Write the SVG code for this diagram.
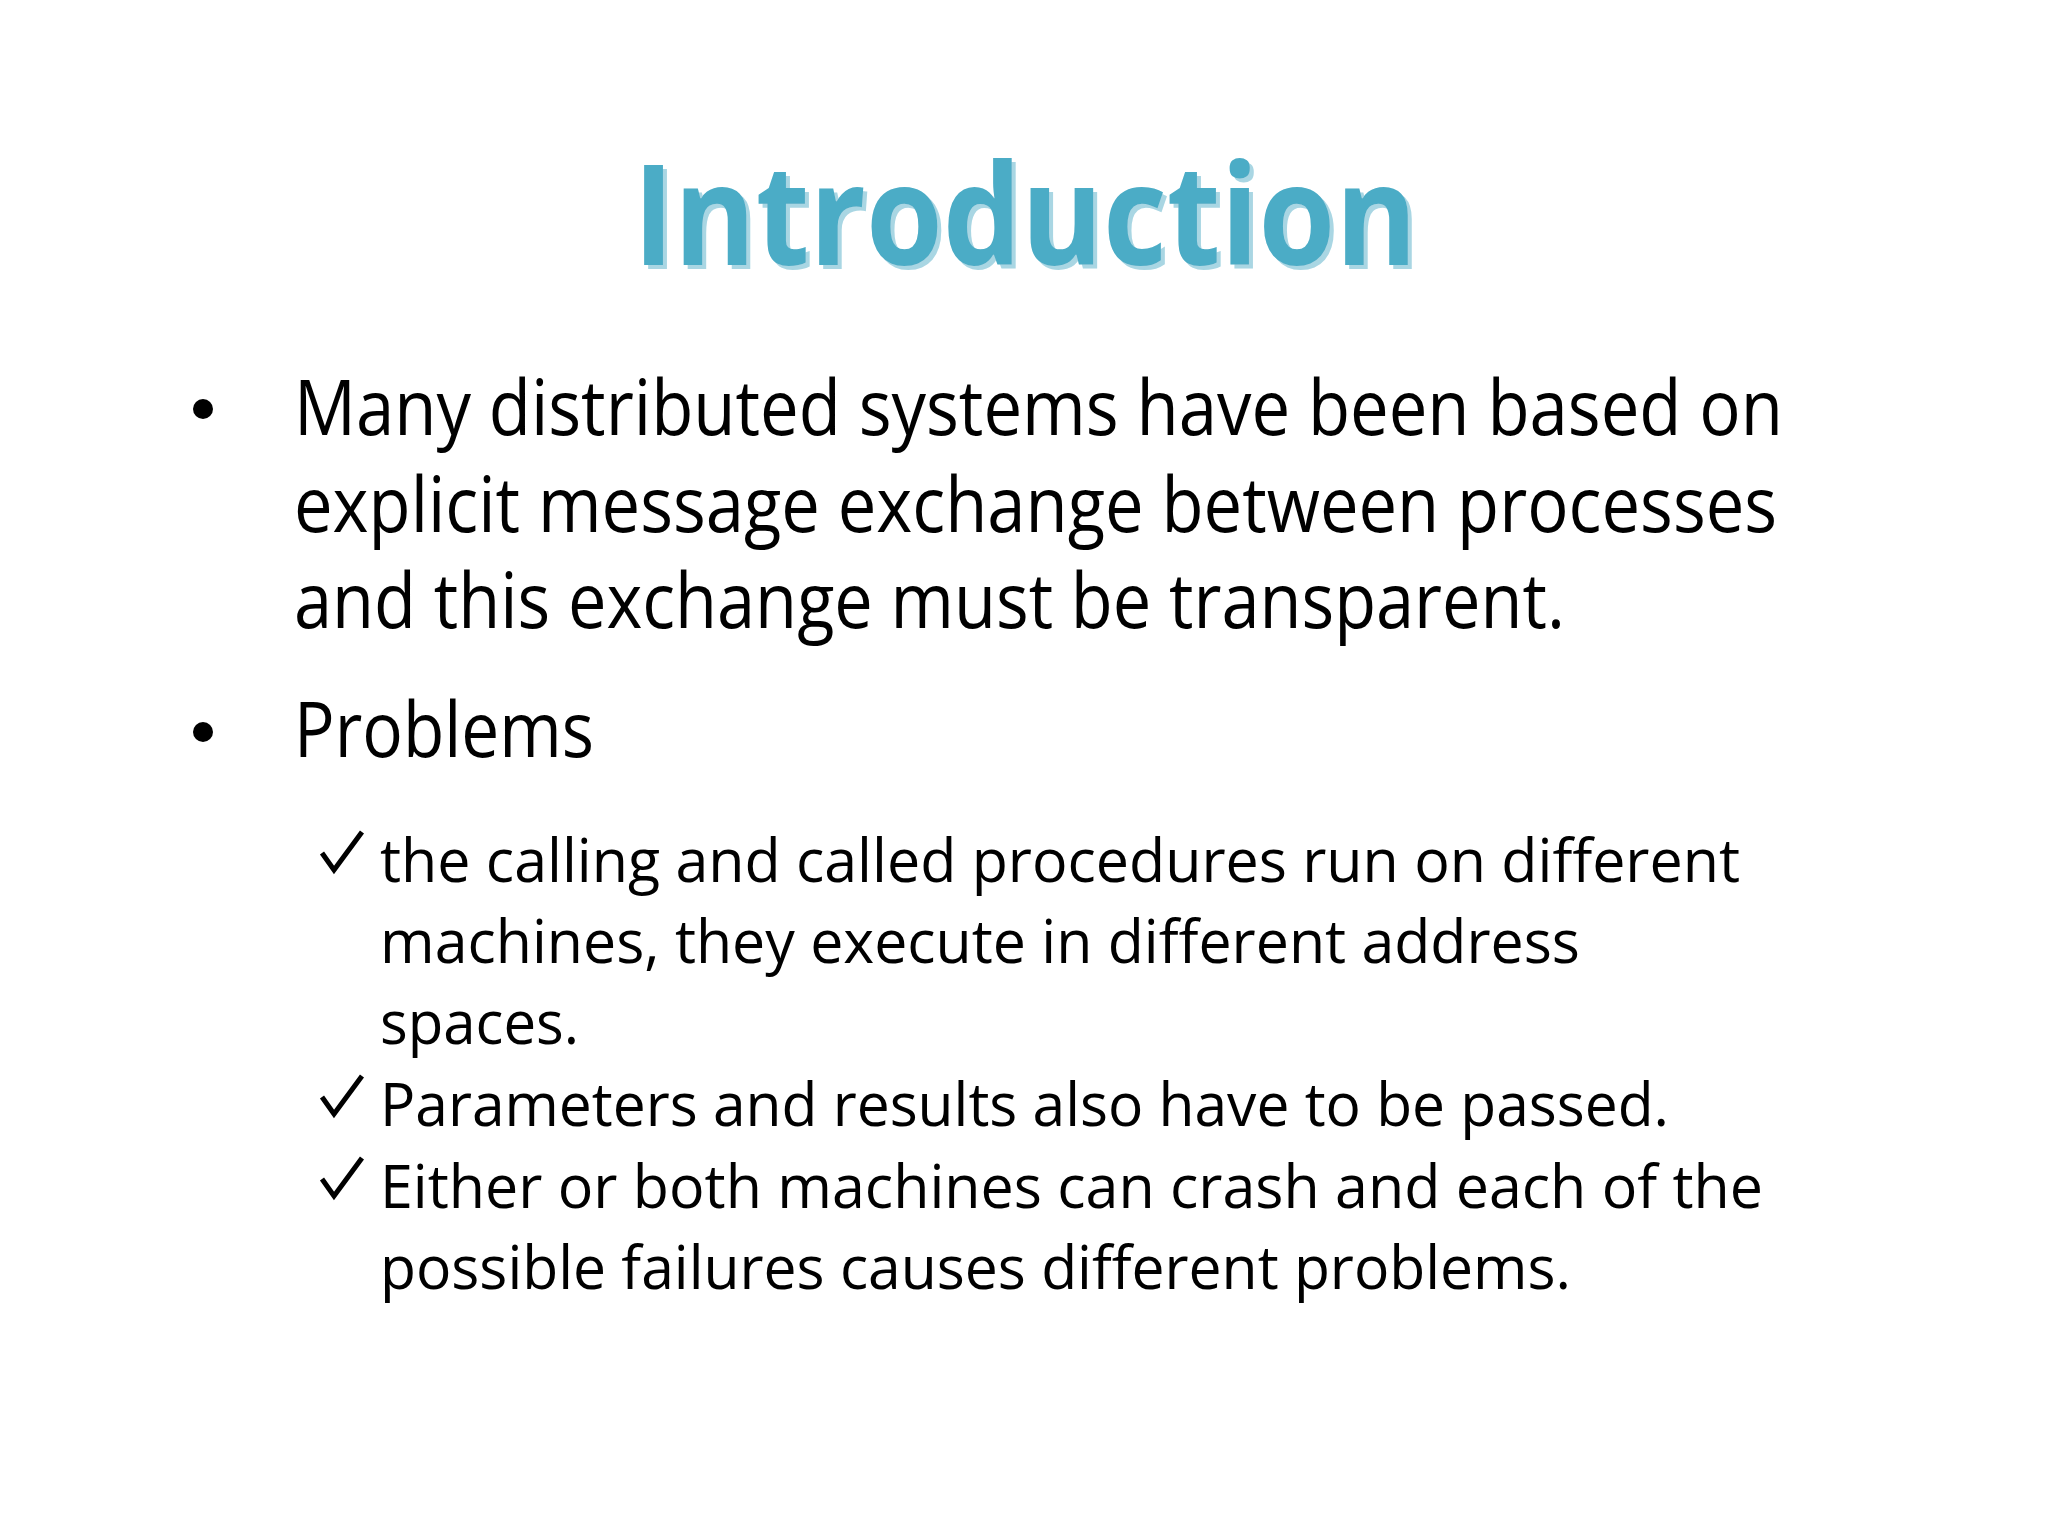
<svg xmlns="http://www.w3.org/2000/svg" width="2048" height="1536" viewBox="0 0 2048 1536">
<defs>
<filter id="sh" x="-5%" y="-20%" width="110%" height="140%">
<feOffset in="SourceAlpha" dx="4" dy="4" result="o"/>
<feFlood flood-color="#a9d6e3"/>
<feComposite in2="o" operator="in" result="s"/>
<feMerge><feMergeNode in="s"/><feMergeNode in="SourceGraphic"/></feMerge>
</filter>
</defs>
<style>
.t{font-family:"Open Sans","Liberation Sans",sans-serif;fill:#000}
.b{font-size:76px}
.s{font-size:60px}
.ttl{font-family:"Open Sans","Liberation Sans",sans-serif;font-weight:bold;font-size:140px}
</style>
<rect width="2048" height="1536" fill="#fff"/>
<g id="title">
<text class="ttl" x="1025" y="265" text-anchor="middle" fill="#4bacc6" filter="url(#sh)" textLength="784" lengthAdjust="spacingAndGlyphs">Introduction</text>
</g>
<g id="bullets">
<circle cx="203" cy="409" r="10" fill="#000"/>
<circle cx="203" cy="732" r="10" fill="#000"/>
<text class="t b" x="294" y="435" textLength="1489" lengthAdjust="spacingAndGlyphs">Many distributed systems have been based on</text>
<text class="t b" x="294" y="532" textLength="1483" lengthAdjust="spacingAndGlyphs">explicit message exchange between processes</text>
<text class="t b" x="294" y="628" textLength="1271" lengthAdjust="spacingAndGlyphs">and this exchange must be transparent.</text>
<text class="t b" x="294" y="757" textLength="300" lengthAdjust="spacingAndGlyphs">Problems</text>
</g>
<g id="subitems">
<path d="M322 853 L334 870 L362 832" fill="none" stroke="#000" stroke-width="5"/>
<path d="M322 1097 L334 1114 L362 1076" fill="none" stroke="#000" stroke-width="5"/>
<path d="M322 1179 L334 1196 L362 1158" fill="none" stroke="#000" stroke-width="5"/>
<text class="t s" x="380" y="882" textLength="1360" lengthAdjust="spacingAndGlyphs">the calling and called procedures run on different</text>
<text class="t s" x="380" y="963" textLength="1200" lengthAdjust="spacingAndGlyphs">machines, they execute in different address</text>
<text class="t s" x="380" y="1044" textLength="199" lengthAdjust="spacingAndGlyphs">spaces.</text>
<text class="t s" x="380" y="1126" textLength="1289" lengthAdjust="spacingAndGlyphs">Parameters and results also have to be passed.</text>
<text class="t s" x="380" y="1208" textLength="1383" lengthAdjust="spacingAndGlyphs">Either or both machines can crash and each of the</text>
<text class="t s" x="380" y="1289" textLength="1191" lengthAdjust="spacingAndGlyphs">possible failures causes different problems.</text>
</g>
</svg>
